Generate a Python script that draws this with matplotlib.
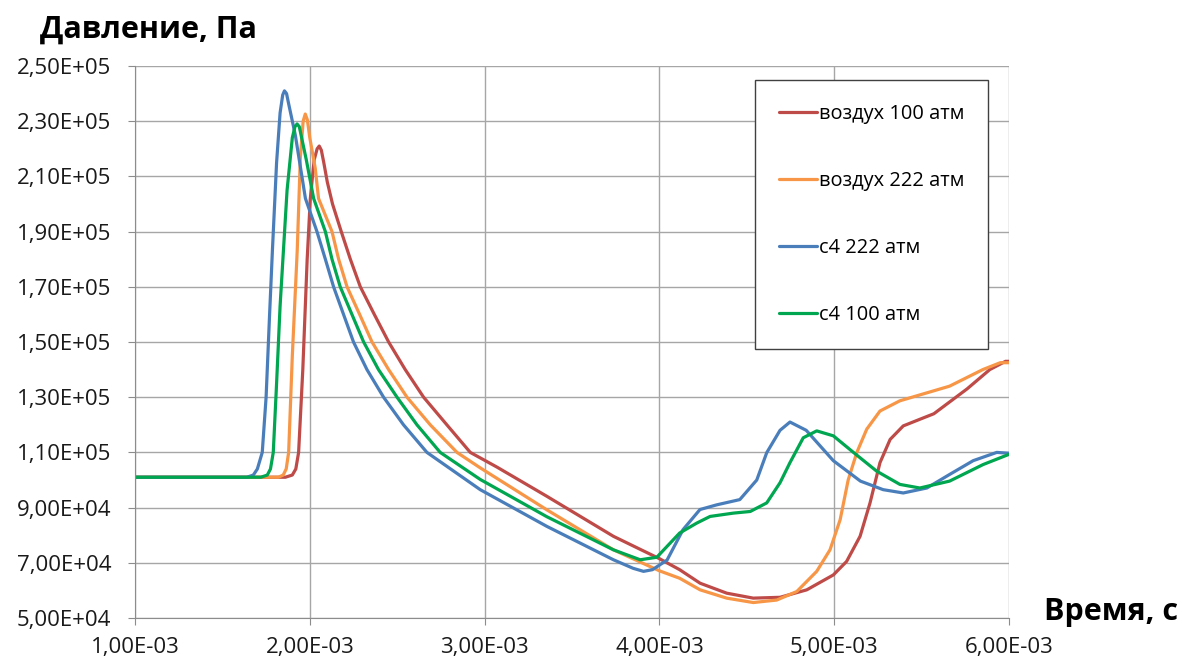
import numpy as np
import matplotlib
matplotlib.use("Agg")
from matplotlib import pyplot as plt
from matplotlib.ticker import FuncFormatter

plt.rcParams['font.family'] = ['Open Sans', 'DejaVu Sans']

# time in ms, pressure in Pa
air100_t = [1.00, 1.86, 1.90, 1.92, 1.936, 1.96, 1.985, 2.003, 2.025, 2.042, 2.054, 2.066, 2.08, 2.10,
            2.13, 2.18, 2.232, 2.289, 2.369, 2.451, 2.546, 2.651, 2.784, 2.918, 3.07, 3.356, 3.737,
            4.00, 4.116, 4.233, 4.385, 4.537, 4.69, 4.843, 4.995, 5.071, 5.148, 5.205, 5.262, 5.32,
            5.395, 5.49, 5.57, 5.76, 5.89, 5.98, 6.00]
air100_p = [101000, 101000, 101800, 104000, 110000, 140000, 180000, 202000, 216000, 220000, 221000, 219500, 215000, 208000,
            200000, 190000, 180000, 170000, 160000, 150000, 140000, 130000, 120000, 110000, 104700, 94100, 79600,
            71500, 67500, 62600, 59000, 57200, 57500, 60200, 65600, 70500, 79600, 91700, 106300, 114700,
            119600, 122000, 124000, 133000, 140000, 143000, 143000]

air222_t = [1.00, 1.82, 1.848, 1.865, 1.879, 1.90, 1.928, 1.946, 1.962, 1.974, 1.986, 2.00, 2.031, 2.05,
            2.127, 2.165, 2.213, 2.285, 2.356, 2.451, 2.556, 2.689, 2.842, 2.975, 3.356, 3.737, 4.00,
            4.116, 4.233, 4.385, 4.537, 4.671, 4.786, 4.90, 4.976, 5.034, 5.08, 5.129, 5.186, 5.262,
            5.376, 5.66, 5.85, 5.95, 6.00]
air222_p = [101000, 101000, 101800, 104000, 110000, 145000, 183000, 217000, 230000, 232600, 230500, 224000, 213000, 202000,
            190000, 180000, 170000, 160000, 150000, 140000, 130000, 120000, 110000, 104400, 89200, 74700, 67100,
            64400, 60200, 57200, 55600, 56500, 59600, 66900, 74700, 85600, 100000, 109900, 118400, 125000,
            128700, 134000, 140000, 142500, 142500]

c4_222_t = [1.00, 1.64, 1.677, 1.70, 1.728, 1.75, 1.77, 1.786, 1.81, 1.83, 1.845, 1.855, 1.867, 1.88,
            1.917, 1.975, 2.041, 2.089, 2.136, 2.193, 2.25, 2.327, 2.422, 2.536, 2.67, 2.975, 3.356,
            3.737, 3.85, 3.909, 3.96, 4.044, 4.135, 4.232, 4.328, 4.46, 4.557, 4.614, 4.69, 4.747,
            4.84, 4.995, 5.15, 5.28, 5.395, 5.53, 5.66, 5.795, 5.93, 6.00]
c4_222_p = [101000, 101000, 101800, 104000, 110000, 130000, 160000, 183000, 215000, 233000, 239500, 241000, 240000, 236000,
            225000, 202000, 190000, 180000, 170000, 160000, 150000, 140000, 130000, 120000, 110000, 96500, 83200,
            71100, 68000, 66900, 67500, 71000, 82000, 89300, 91000, 92900, 100000, 109900, 118000, 121000,
            118000, 107000, 99600, 96500, 95300, 97100, 102000, 107000, 110000, 109700]

c4_100_t = [1.00, 1.72, 1.757, 1.775, 1.791, 1.81, 1.83, 1.849, 1.87, 1.90, 1.915, 1.927, 1.94, 1.95,
            1.98, 2.022, 2.089, 2.127, 2.174, 2.241, 2.308, 2.393, 2.499, 2.613, 2.746, 2.975, 3.356,
            3.737, 3.89, 3.985, 4.116, 4.214, 4.29, 4.423, 4.52, 4.614, 4.69, 4.747, 4.823, 4.90,
            4.995, 5.11, 5.243, 5.376, 5.49, 5.66, 5.852, 6.00]
c4_100_p = [101000, 101000, 101800, 104000, 110000, 135000, 163000, 183000, 205000, 224000, 228000, 229000, 228000, 225000,
            216000, 202000, 190000, 180000, 170000, 160000, 150000, 140000, 130000, 120000, 110000, 100200, 86700,
            74700, 71100, 72000, 80800, 84400, 86800, 88000, 88600, 91700, 99000, 106300, 115300, 117800,
            116000, 110000, 103200, 98400, 97100, 99600, 105600, 109300]

labels = ["воздух 100 атм", "воздух 222 атм", "с4 222 атм", "с4 100 атм"]
colors = ["#BE4B48", "#F79646", "#4A7EBB", "#00A650"]

x_ticks = [1e-3, 2e-3, 3e-3, 4e-3, 5e-3, 6e-3]
y_ticks = [5e4, 7e4, 9e4, 1.1e5, 1.3e5, 1.5e5, 1.7e5, 1.9e5, 2.1e5, 2.3e5, 2.5e5]


def sci_comma(v, pos):
    return "{:.2E}".format(v).replace(".", ",")


fig = plt.figure(figsize=(11.82, 6.63), dpi=100)
ax = fig.add_axes([135 / 1182, 1 - 618 / 663, (1009 - 135) / 1182, (618 - 66) / 663])

series = [(air100_t, air100_p), (air222_t, air222_p), (c4_222_t, c4_222_p), (c4_100_t, c4_100_p)]
for (t, p), lab, col in zip(series, labels, colors):
    ax.plot(np.array(t) * 1e-3, p, color=col, linewidth=2.3, label=lab,
            solid_joinstyle="round", solid_capstyle="round")

ax.set_xlim(1e-3, 6e-3)
ax.set_ylim(5e4, 2.5e5)
ax.set_xticks(x_ticks)
ax.set_yticks(y_ticks)
ax.xaxis.set_major_formatter(FuncFormatter(sci_comma))
ax.yaxis.set_major_formatter(FuncFormatter(sci_comma))
ax.grid(color="#A6A6A6", linewidth=1.0)
ax.set_axisbelow(True)
for side in ["top", "right"]:
    ax.spines[side].set_visible(False)
for side in ["left", "bottom"]:
    ax.spines[side].set_color("#8C8C8C")
ax.tick_params(axis="both", colors="#8C8C8C", labelcolor="#1A1A1A", labelsize=16, length=5)
ax.tick_params(axis="y", pad=12)
ax.tick_params(axis="x", pad=9)

fig.text(40 / 1182, 1 - 30 / 663, "Давление, Па", fontsize=22, fontweight="bold",
         ha="left", va="center")
fig.text(1178 / 1182, 1 - 612 / 663, "Время, с", fontsize=22, fontweight="bold",
         ha="right", va="center")

leg = ax.legend(loc="upper left", bbox_to_anchor=(755 / 1182, 1 - 80 / 663, (988 - 755) / 1182, 0.0),
                bbox_transform=fig.transFigure, mode="expand", fontsize=14.4,
                labelspacing=2.35, handlelength=1.9, handletextpad=0.1, borderpad=1.2,
                borderaxespad=0, frameon=True, fancybox=False, framealpha=1)
leg.get_frame().set_edgecolor("#404040")
leg.get_frame().set_linewidth(1.0)

fig.savefig("out.png", dpi=100)
